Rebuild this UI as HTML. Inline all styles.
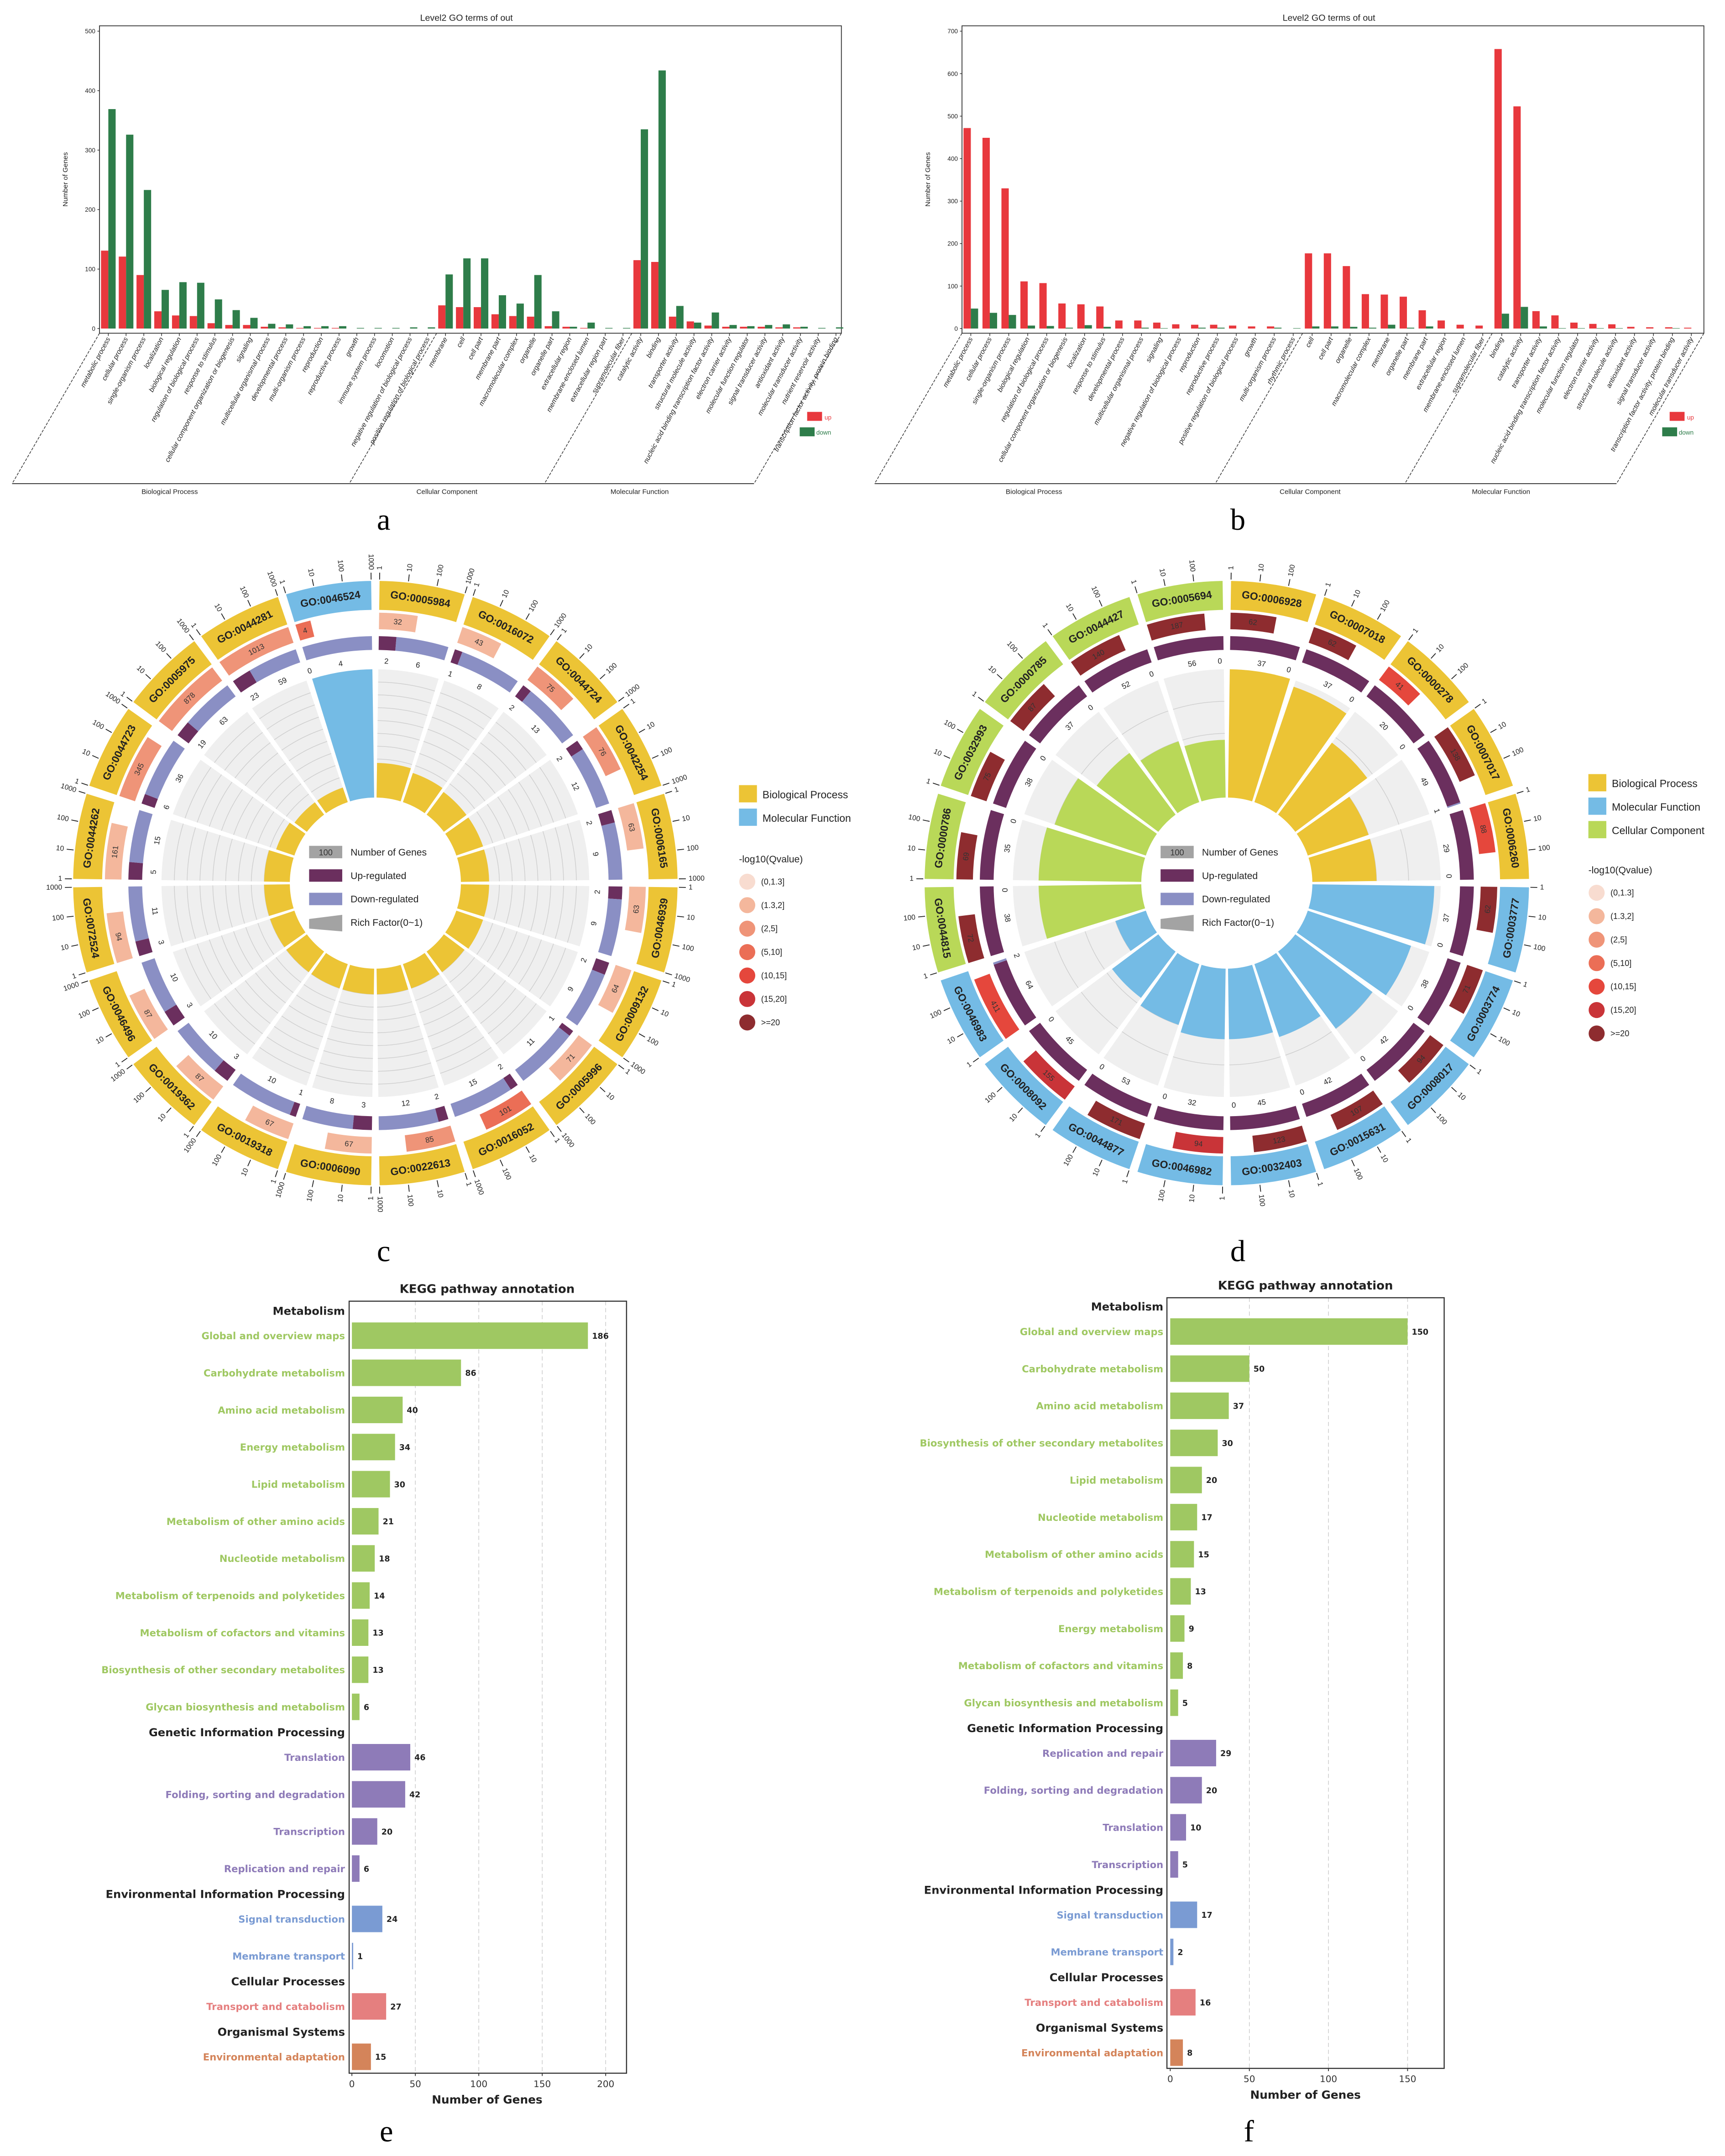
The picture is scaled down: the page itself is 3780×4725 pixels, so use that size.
<!DOCTYPE html>
<html><head><meta charset="utf-8"><style>
html,body{margin:0;padding:0;background:#fff;}
svg{display:block;font-family:"Liberation Sans",sans-serif;}
</style></head><body>
<svg id="fig" xmlns="http://www.w3.org/2000/svg" width="3780" height="4725" viewBox="0 0 1250 1562.5">
<rect x="0" y="0" width="1250" height="1562.5" fill="#fff"/>
<text x="278" y="384" font-family="Liberation Serif,serif" font-size="22" text-anchor="middle">a</text>
<text x="897" y="384" font-family="Liberation Serif,serif" font-size="22" text-anchor="middle">b</text>
<text x="278" y="914" font-family="Liberation Serif,serif" font-size="22" text-anchor="middle">c</text>
<text x="897" y="914" font-family="Liberation Serif,serif" font-size="22" text-anchor="middle">d</text>
<text x="280" y="1552" font-family="Liberation Serif,serif" font-size="22" text-anchor="middle">e</text>
<text x="905" y="1552" font-family="Liberation Serif,serif" font-size="22" text-anchor="middle">f</text>
</svg>
<script>
// ---------- Panel a data ----------
const aCats=["metabolic process","cellular process","single-organism process","localization","biological regulation","regulation of biological process","response to stimulus","cellular component organization or biogenesis","signaling","multicellular organismal process","developmental process","multi-organism process","reproduction","reproductive process","growth","immune system process","locomotion","negative regulation of biological process","positive regulation of biological process","membrane","cell","cell part","membrane part","macromolecular complex","organelle","organelle part","extracellular region","membrane-enclosed lumen","extracellular region part","supramolecular fiber","catalytic activity","binding","transporter activity","structural molecule activity","nucleic acid binding transcription factor activity","electron carrier activity","molecular function regulator","signal transducer activity","antioxidant activity","molecular transducer activity","nutrient reservoir activity","transcription factor activity, protein binding"];
const aUp=[131,121,90,29,22,21,9,6,6,3,2,1,1,1,0,0,0,0,0,39,36,36,24,21,20,4,3,1,0,0,115,112,20,12,5,3,3,3,2,2,0,0];
const aDown=[369,326,233,65,78,77,49,31,18,8,7,4,4,4,1,1,1,2,2,91,118,118,56,42,90,29,3,10,1,1,335,434,38,10,27,6,4,6,7,3,1,2];
const aGroupSizes=[19,11,12];
const aTicks=[0,100,200,300,400,500];
// ---------- Panel b data ----------
const bCats=["metabolic process","cellular process","single-organism process","biological regulation","regulation of biological process","cellular component organization or biogenesis","localization","response to stimulus","developmental process","multicellular organismal process","signaling","negative regulation of biological process","reproduction","reproductive process","positive regulation of biological process","growth","multi-organism process","rhythmic process","cell","cell part","organelle","macromolecular complex","membrane","organelle part","membrane part","extracellular region","membrane-enclosed lumen","supramolecular fiber","binding","catalytic activity","transporter activity","nucleic acid binding transcription factor activity","molecular function regulator","electron carrier activity","structural molecule activity","antioxidant activity","signal transducer activity","transcription factor activity, protein binding","molecular transducer activity"];
const bUp=[472,449,330,111,107,59,57,52,19,19,14,10,9,9,7,5,5,0,177,177,147,81,80,75,43,19,9,7,658,523,41,31,14,11,10,4,3,3,2];
const bDown=[47,37,32,7,6,2,8,4,0,2,1,0,2,2,0,0,2,1,5,5,4,2,9,2,5,0,0,0,35,51,5,1,1,1,1,0,0,1,0];
const bGroupSizes=[18,10,11];
const bTicks=[0,100,200,300,400,500,600,700];
const groupNames=["Biological Process","Cellular Component","Molecular Function"];
const ontNames=["Biological Process","Molecular Function","Cellular Component"];
// ---------- Panel c data ----------
const cIds=["GO:0005984","GO:0016072","GO:0044724","GO:0042254","GO:0006165","GO:0046939","GO:0009132","GO:0005996","GO:0016052","GO:0022613","GO:0006090","GO:0019318","GO:0019362","GO:0046496","GO:0072524","GO:0044262","GO:0044723","GO:0005975","GO:0044281","GO:0046524"];
const cOnt=[0,0,0,0,0,0,0,0,0,0,0,0,0,0,0,0,0,0,0,1];
const cNum=[32,43,75,76,63,63,64,71,101,85,67,67,87,87,94,161,345,878,1013,4];
const cQ=[1,1,2,2,1,1,1,1,3,2,1,1,1,1,1,1,2,2,2,3];
const cUpN=[2,1,2,2,2,2,2,1,2,2,3,1,3,3,3,5,6,19,23,0];
const cDownN=[6,8,13,12,9,9,9,11,15,12,8,10,10,10,11,15,36,63,59,4];
const cRich=[0.27,0.24,0.22,0.22,0.22,0.22,0.22,0.2,0.2,0.2,0.2,0.2,0.2,0.2,0.2,0.2,0.15,0.12,0.12,1.0];
const cTickLabels=["1","10","100","1000"];
// ---------- Panel d data ----------
const dIds=["GO:0006928","GO:0007018","GO:0000278","GO:0007017","GO:0006260","GO:0003777","GO:0003774","GO:0008017","GO:0015631","GO:0032403","GO:0046982","GO:0044877","GO:0008092","GO:0046983","GO:0044815","GO:0000786","GO:0032993","GO:0000785","GO:0044427","GO:0005694"];
const dOnt=[0,0,0,0,0,1,1,1,1,1,1,1,1,1,2,2,2,2,2,2];
const dNum=[62,62,41,138,88,62,71,94,107,123,94,171,155,411,72,69,75,87,140,187];
const dQ=[6,6,4,6,4,6,6,6,6,6,5,6,5,4,6,6,6,6,6,6];
const dUpN=[37,37,20,49,29,37,38,42,42,45,32,53,45,64,38,35,38,37,52,56];
const dDownN=[0,0,0,1,0,0,0,0,0,0,0,0,0,2,0,0,0,0,0,0];
const dRich=[1.0,0.95,0.7,0.5,0.5,0.95,0.85,0.75,0.6,0.55,0.55,0.5,0.45,0.25,0.8,0.8,0.75,0.6,0.5,0.45];
const dTickLabels=["1","10","100",""];
// ---------- Panel e data ----------
const eLabels=["Global and overview maps","Carbohydrate metabolism","Amino acid metabolism","Energy metabolism","Lipid metabolism","Metabolism of other amino acids","Nucleotide metabolism","Metabolism of terpenoids and polyketides","Metabolism of cofactors and vitamins","Biosynthesis of other secondary metabolites","Glycan biosynthesis and metabolism","Translation","Folding, sorting and degradation","Transcription","Replication and repair","Signal transduction","Membrane transport","Transport and catabolism","Environmental adaptation"];
const eValues=[186,86,40,34,30,21,18,14,13,13,6,46,42,20,6,24,1,27,15];
const eClass=[0,0,0,0,0,0,0,0,0,0,0,1,1,1,1,2,2,3,4];
const eTicks=[0,50,100,150,200];
// ---------- Panel f data ----------
const fLabels=["Global and overview maps","Carbohydrate metabolism","Amino acid metabolism","Biosynthesis of other secondary metabolites","Lipid metabolism","Nucleotide metabolism","Metabolism of other amino acids","Metabolism of terpenoids and polyketides","Energy metabolism","Metabolism of cofactors and vitamins","Glycan biosynthesis and metabolism","Replication and repair","Folding, sorting and degradation","Translation","Transcription","Signal transduction","Membrane transport","Transport and catabolism","Environmental adaptation"];
const fValues=[150,50,37,30,20,17,15,13,9,8,5,29,20,10,5,17,2,16,8];
const fClass=[0,0,0,0,0,0,0,0,0,0,0,1,1,1,1,2,2,3,4];
const fTicks=[0,50,100,150];
const keggHeaders=["Metabolism","Genetic Information Processing","Environmental Information Processing","Cellular Processes","Organismal Systems"];
const keggColors=["#9fc862","#8e7bb8","#7a9bd3","#e57f7f","#d4845a"];

const NS='http://www.w3.org/2000/svg';
const svg=document.getElementById('fig');
function mk(tag,attrs,text){const e=document.createElementNS(NS,tag);for(const k in attrs)e.setAttribute(k,attrs[k]);if(text!==undefined)e.textContent=text;svg.appendChild(e);return e;}

// ================= GO bar panels =================
function drawGO(ox,cats,up,down,sizes,ticks,ymax,pname){
  const left=ox+72.1,right=ox+609.7,top=18.7,base=238.1,axisY=241.5,yTop=22.6;
  const yS=v=>base-v*(base-yTop)/ymax;
  const x0=ox+78.5;
  const bw=(cats.length===42?12.86:13.74);
  const xC=i=>x0+i*bw;
  let t=mk('text',{x:ox+338,y:15,'font-size':6.5,'text-anchor':'middle',fill:'#222'},'Level2 GO terms of out');
  
  
  let r=mk('rect',{x:left,y:top,width:right-left,height:axisY-top,fill:'none',stroke:'#333','stroke-width':0.6});
  
  
  ticks.forEach(v=>{
    let tl=mk('text',{x:left-3,y:yS(v)+1.6,'font-size':4.5,'text-anchor':'end',fill:'#222'},String(v));
    
    
    let tk=mk('line',{x1:left-1.5,x2:left,y1:yS(v),y2:yS(v),stroke:'#333','stroke-width':0.5});
    
    
  });
  let yt=mk('text',{x:0,y:0,'font-size':5,'text-anchor':'middle',fill:'#222',transform:`translate(${ox+49},130) rotate(-90)`},'Number of Genes');
  
  
  cats.forEach((c,i)=>{
    const xc=xC(i);
    let b1=mk('rect',{x:xc-5.3,y:yS(up[i]),width:5.3,height:base-yS(up[i]),fill:'#e8383d'});
    
    
    let b2=mk('rect',{x:xc,y:yS(down[i]),width:5.3,height:base-yS(down[i]),fill:'#2e7d4a'});
    
    
    let tk=mk('line',{x1:xc,x2:xc,y1:axisY,y2:axisY+2,stroke:'#333','stroke-width':0.5});
    
    
    let lb=mk('text',{x:xc+1.5,y:axisY+4,'font-size':5,'font-style':'italic','text-anchor':'end',fill:'#222',transform:`rotate(-62 ${xc+1.5} ${axisY+4})`},c);
    
    
  });
  const dx=-63.3,by=350.5;
  let bounds=[left];let acc=0;
  sizes.forEach((s,k)=>{acc+=s; if(k<sizes.length-1) bounds.push(x0+(acc-0.5)*bw);});
  bounds.push(right);
  bounds.forEach(bx=>{
    let l=mk('line',{x1:bx,y1:axisY,x2:bx+dx,y2:by,stroke:'#333','stroke-width':0.5,'stroke-dasharray':'2,1'});
    
    
  });
  let bl=mk('line',{x1:left+dx,y1:by,x2:right+dx,y2:by,stroke:'#333','stroke-width':0.6});
  
  
  for(let k=0;k<3;k++){
    const cx=(bounds[k]+bounds[k+1])/2+dx+ (k===0?-8:(k===2?-7:0));
    let g=mk('text',{x:cx,y:358,'font-size':5,'text-anchor':'middle',fill:'#222'},groupNames[k]);
    
    
  }
  let l1=mk('rect',{x:ox+584.9,y:298.5,width:10.8,height:6.5,fill:'#e8383d'});
  
  
  let l2=mk('text',{x:ox+597.5,y:304,'font-size':4.5,fill:'#e8383d'},'up');
  
  
  let l3=mk('rect',{x:ox+579.5,y:309.7,width:10.8,height:6.5,fill:'#2e7d4a'});
  
  
  let l4=mk('text',{x:ox+591.5,y:315,'font-size':4.5,fill:'#2e7d4a'},'down');
  
  
}
drawGO(0,aCats,aUp,aDown,aGroupSizes,aTicks,500,'panel-a');
drawGO(625,bCats,bUp,bDown,bGroupSizes,bTicks,700,'panel-b');

// ================= Circular panels =================
const ontColors=["#ecc435","#74bbe5","#b9d858"];
const qColors=["#f8dcd0","#f4b79c","#ef9478","#eb6e56","#e5473c","#c93438","#8e2c2f"];
function drawCircle(cx,cy,ids,ont,num,q,upN,downN,rich,tickL,gridN,pname){
  const n=ids.length,span=360/n,gap=1.6;
  const pt=(r,a)=>{const t=a*Math.PI/180;return [cx+r*Math.sin(t),cy-r*Math.cos(t)];};
  const ann=(r0,r1,a0,a1)=>{const L=(a1-a0)>180?1:0;const p1=pt(r1,a0),p2=pt(r1,a1),p3=pt(r0,a1),p4=pt(r0,a0);
    return `M${p1[0].toFixed(2)},${p1[1].toFixed(2)} A${r1},${r1} 0 ${L} 1 ${p2[0].toFixed(2)},${p2[1].toFixed(2)} L${p3[0].toFixed(2)},${p3[1].toFixed(2)} A${r0},${r0} 0 ${L} 0 ${p4[0].toFixed(2)},${p4[1].toFixed(2)} Z`;};
  const tan=a=>{let r=a; if(a>90&&a<270) r=a-180; return r;};
  const R0=62,R1=155;
  for(let i=0;i<n;i++){
    const a0=i*span+gap/2,a1=(i+1)*span-gap/2,am=(a0+a1)/2;
    let bg=mk('path',{d:ann(R0,R1,a0,a1),fill:'#efefef'});
    
    
    for(let g=1;g<=gridN;g++){
      const rr=R0+(R1-R0)*g/(gridN+1);
      const p1=pt(rr,a0),p2=pt(rr,a1);
      let gl=mk('path',{d:`M${p1[0]},${p1[1]} A${rr},${rr} 0 0 1 ${p2[0]},${p2[1]}`,fill:'none',stroke:'#cfcfcf','stroke-width':0.5});
      
      
    }
    let rb=mk('path',{d:ann(R0,R0+(R1-R0)*rich[i],a0,a1),fill:ontColors[ont[i]]});
    
    
    const tot=upN[i]+downN[i];const au=a0+(a1-a0)*upN[i]/tot;
    if(upN[i]>0){let u=mk('path',{d:ann(169,179,a0,au),fill:'#6b2f5e'});
      
      }
    if(downN[i]>0){let dd=mk('path',{d:ann(169,179,au,a1),fill:'#8a8fc4'});
      
      }
    const um=(a0+au)/2,dm=downN[i]>0?(au+a1)/2:a1-1;
    [[um,upN[i]],[dm,downN[i]]].forEach(([ang,val])=>{
      const p=pt(161,ang);
      let ct=mk('text',{x:p[0],y:p[1],'font-size':5.5,'text-anchor':'middle','dominant-baseline':'central',fill:'#222',transform:`rotate(${tan(ang)} ${p[0]} ${p[1]})`},String(val));
      
      
    });
    const an=a0+(a1-a0)*Math.min(1,Math.log10(num[i])/3);
    let nr=mk('path',{d:ann(184,196,a0,an),fill:qColors[q[i]]});
    
    
    const np=pt(190,(a0+an)/2);
    let nt=mk('text',{x:np[0],y:np[1],'font-size':5.5,'text-anchor':'middle','dominant-baseline':'central',fill:'#333',transform:`rotate(${tan((a0+an)/2)} ${np[0]} ${np[1]})`},String(num[i]));
    
    
    let gr=mk('path',{d:ann(198,219,a0,a1),fill:ontColors[ont[i]]});
    
    
    const gp=pt(208.5,am);
    let gt=mk('text',{x:gp[0],y:gp[1],'font-size':7.6,'font-weight':'bold','text-anchor':'middle','dominant-baseline':'central',fill:'#222',transform:`rotate(${tan(am)} ${gp[0]} ${gp[1]})`},ids[i]);
    
    
    tickL.forEach((lab,k)=>{
      if(lab==='')return;
      const ang=a0+(a1-a0)*k/3;
      const q1=pt(220,ang),q2=pt(225,ang);
      let tk=mk('line',{x1:q1[0],y1:q1[1],x2:q2[0],y2:q2[1],stroke:'#222','stroke-width':0.6});
      
      
      const lp=pt(227,ang);const norm=((ang%360)+360)%360;
      const right=norm<=180;
      let tt=mk('text',{x:lp[0],y:lp[1],'font-size':5.2,'text-anchor':right?'start':'end','dominant-baseline':'central',fill:'#222',transform:`rotate(${right?norm-90:norm+90} ${lp[0]} ${lp[1]})`},lab);
      
      
    });
  }
  let k1=mk('rect',{x:cx-48,y:cy-27,width:24,height:9,fill:'#a3a3a3'});
  
  
  let k1t=mk('text',{x:cx-36,y:cy-20.2,'font-size':6,'text-anchor':'middle',fill:'#333'},'100');
  
  
  let k2=mk('rect',{x:cx-48,y:cy-10,width:24,height:9,fill:'#6b2f5e'});
  
  
  let k3=mk('rect',{x:cx-48,y:cy+7,width:24,height:9,fill:'#8a8fc4'});
  
  
  let k4=mk('polygon',{points:`${cx-48},${cy+26} ${cx-24},${cy+23} ${cx-24},${cy+35} ${cx-48},${cy+33}`,fill:'#a3a3a3'});
  
  
  [['Number of Genes',-22.5],['Up-regulated',-5.5],['Down-regulated',11.5],['Rich Factor(0~1)',28.5]].forEach(([s,dy])=>{
    let lt=mk('text',{x:cx-18,y:cy+dy+2.5,'font-size':7,fill:'#222'},s);
    
    
  });
}
drawCircle(272,640,cIds,cOnt,cNum,cQ,cUpN,cDownN,cRich,cTickLabels,9,'panel-c');
drawCircle(889,640,dIds,dOnt,dNum,dQ,dUpN,dDownN,dRich,dTickLabels,3,'panel-d');

function sideLegend(x,y0,onts,qy,pname){
  onts.forEach((o,k)=>{
    let s=mk('rect',{x:x,y:y0+k*17,width:13,height:12.5,fill:ontColors[o]});
    
    
    let t=mk('text',{x:x+17,y:y0+k*17+9.5,'font-size':7.6,fill:'#222'},ontNames[o]);
    
    
  });
  let h=mk('text',{x:x,y:qy,'font-size':7,fill:'#222'},'-log10(Qvalue)');
  
  
  const labs=["(0,1.3]","(1.3,2]","(2,5]","(5,10]","(10,15]","(15,20]",">=20"];
  labs.forEach((l,k)=>{
    let c=mk('circle',{cx:x+6,cy:qy+14+k*17,r:5.8,fill:qColors[k]});
    
    
    let t=mk('text',{x:x+16,y:qy+16+k*17,'font-size':6,fill:'#222'},l);
    
    
  });
}
sideLegend(535.5,569,[0,1],625,'panel-c');
sideLegend(1151,561,[0,1,2],633,'panel-d');

// ================= KEGG panels =================
const KF='"DejaVu Sans","Liberation Sans",sans-serif';
function drawKegg(o){
  const xs=v=>o.x0+v*o.sc;
  let t=mk('text',{x:o.tx,y:o.ty,'font-size':8.6,'font-weight':'bold','font-family':KF,'text-anchor':'middle',fill:'#222'},'KEGG pathway annotation');
  
  
  o.ticks.forEach(v=>{
    if(v>0){let g=mk('line',{x1:xs(v),x2:xs(v),y1:o.top,y2:o.bot,stroke:'#cccccc','stroke-width':0.5,'stroke-dasharray':'3,2'});
      
      }
    let tk=mk('line',{x1:xs(v),x2:xs(v),y1:o.bot,y2:o.bot+2,stroke:'#333','stroke-width':0.6});
    
    
    let tl=mk('text',{x:xs(v),y:o.bot+10,'font-size':6.6,'font-family':KF,'text-anchor':'middle',fill:'#333'},String(v));
    
    
  });
  let fr=mk('rect',{x:o.bl,y:o.top,width:o.br-o.bl,height:o.bot-o.top,fill:'none',stroke:'#333','stroke-width':0.8});
  
  
  let xt=mk('text',{x:o.tx,y:o.bot+22,'font-size':8.2,'font-weight':'bold','font-family':KF,'text-anchor':'middle',fill:'#222'},'Number of Genes');
  
  
  let y=o.y0;let prev=-1;
  o.labels.forEach((lab,i)=>{
    const c=o.cls[i];
    if(c!==prev){
      if(prev>=0) y+=36.5-26.9;
      let h=mk('text',{x:o.lx,y:y-18.2+3,'font-size':8,'font-weight':'bold','font-family':KF,'text-anchor':'end',fill:'#222'},keggHeaders[c]);
      
      
      prev=c;
    }
    let b=mk('rect',{x:xs(0),y:y-9.6,width:Math.max(0.6,xs(o.vals[i])-xs(0)),height:19.2,fill:keggColors[c]});
    
    
    let l=mk('text',{x:o.lx,y:y+2.6,'font-size':7,'font-weight':'bold','font-family':KF,'text-anchor':'end',fill:keggColors[c]},lab);
    
    
    let v=mk('text',{x:xs(o.vals[i])+3,y:y+2.2,'font-size':5.8,'font-weight':'bold','font-family':KF,fill:'#222'},String(o.vals[i]));
    
    
    y+=26.9;
  });
}
drawKegg({p:'panel-e',labels:eLabels,vals:eValues,cls:eClass,ticks:eTicks,x0:255,sc:0.9195,tx:353,ty:937,top:943,bot:1502.5,bl:253,br:454,lx:250,y0:968});
drawKegg({p:'panel-f',labels:fLabels,vals:fValues,cls:fClass,ticks:fTicks,x0:848,sc:1.1466,tx:946,ty:934.5,top:940.5,bot:1499,bl:845.6,br:1046.5,lx:843,y0:965});
</script>
</body></html>
